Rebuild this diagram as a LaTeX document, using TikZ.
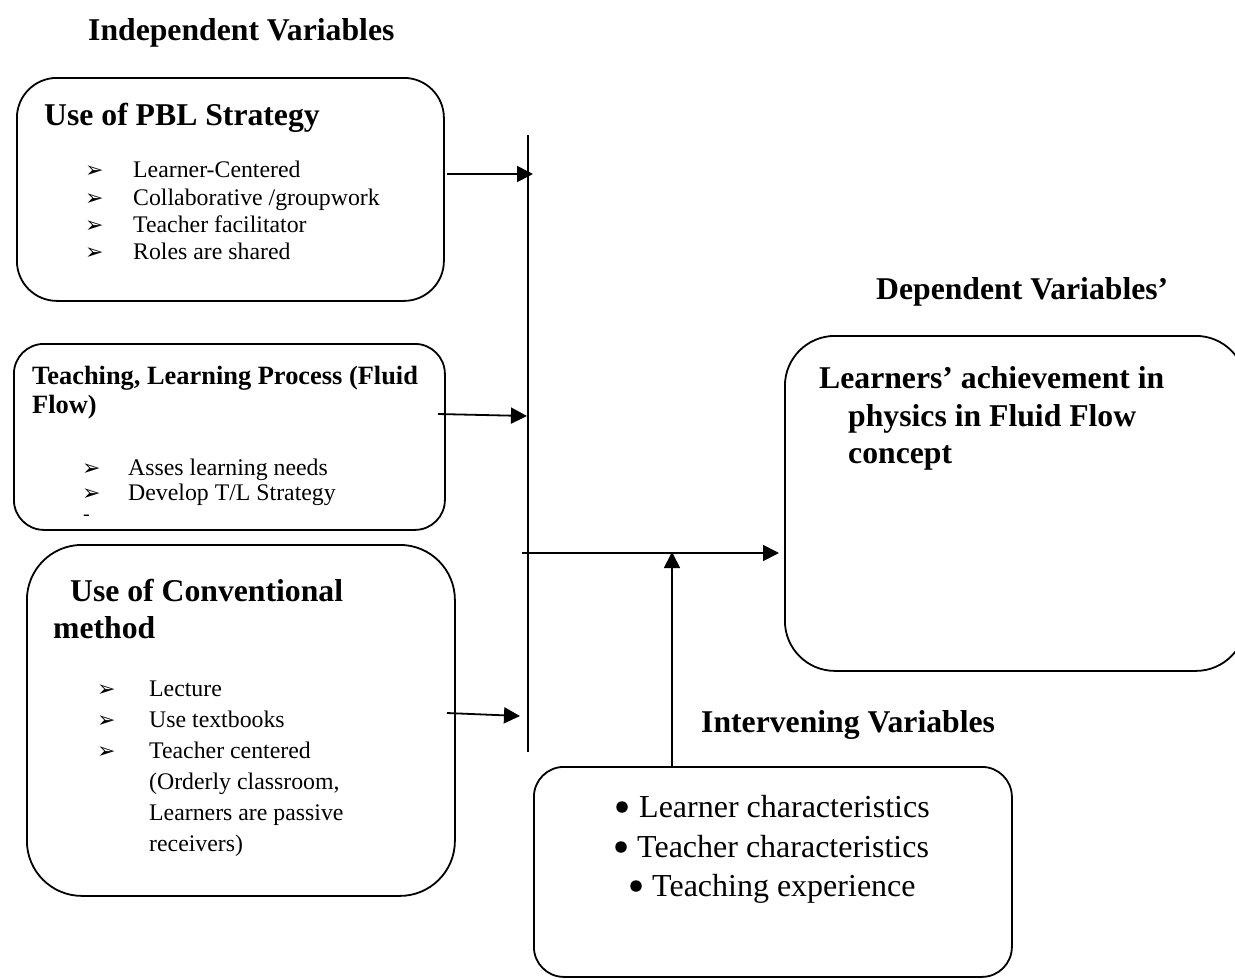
\documentclass[tikz,border=0pt]{standalone}
\usepackage{fontspec}
\setmainfont{Liberation Serif}
\newfontfamily\dejavu{DejaVu Sans}
\usetikzlibrary{arrows.meta}
\newcommand\hdfont{\fontsize{31.7pt}{37pt}\selectfont\bfseries}
\newcommand\smtitle{\fontsize{26.4pt}{30pt}\selectfont\bfseries}
\newcommand\itfont{\fontsize{23.8pt}{27pt}\selectfont}
\newcommand\bigit{\fontsize{32pt}{39pt}\selectfont}
\newcommand\arfont{\dejavu\fontsize{22pt}{24pt}\selectfont}
\begin{document}
\begin{tikzpicture}[x=1pt,y=-1pt,
  box/.style={draw, line width=1.8pt, inner sep=0pt, anchor=north west},
  lbl/.style={anchor=base west, inner sep=0pt},
  dotb/.style={circle, fill, inner sep=0pt, minimum size=11.5pt},
  conn/.style={line width=1.8pt, -{Triangle[length=16pt,width=16pt]}},
  bus/.style={line width=1.8pt}]
\useasboundingbox (0,0) rectangle (1235,978);

% headings
\node[lbl, font=\hdfont] (hInd) at (88,40) {Independent Variables};
\node[lbl, font=\hdfont] (hDep) at (876,299) {Dependent Variables’};
\node[lbl, font=\hdfont] (hInt) at (701,732) {Intervening Variables};

% box 1 : PBL
\node[box, minimum width=427pt, minimum height=223pt, rounded corners=40pt] (pbl) at (16,77) {};
\node[lbl, font=\hdfont] (pblT) at (44,125) {Use of PBL Strategy};
\node[lbl, font=\arfont] (pblA1) at (85,177) {➢};
\node[lbl, font=\arfont] (pblA2) at (85,205) {➢};
\node[lbl, font=\arfont] (pblA3) at (85,232) {➢};
\node[lbl, font=\arfont] (pblA4) at (85,259) {➢};
\node[lbl, font=\itfont] (pbl1) at (133,177) {Learner-Centered};
\node[lbl, font=\itfont] (pbl2) at (133,205) {Collaborative /groupwork};
\node[lbl, font=\itfont] (pbl3) at (133,232) {Teacher facilitator};
\node[lbl, font=\itfont] (pbl4) at (133,259) {Roles are shared};

% box 2 : teaching learning process
\node[box, minimum width=431pt, minimum height=186pt, rounded corners=30pt] (tlp) at (13,343) {};
\node[lbl, font=\smtitle] (tlpT1) at (32,384) {Teaching, Learning Process (Fluid};
\node[lbl, font=\smtitle] (tlpT2) at (32,413) {Flow)};
\node[lbl, font=\arfont] (tlpA1) at (82,475) {➢};
\node[lbl, font=\arfont] (tlpA2) at (82,500) {➢};
\node[lbl, font=\itfont] (tlp1) at (128,475) {Asses learning needs};
\node[lbl, font=\itfont] (tlp2) at (128,500) {Develop T/L Strategy};
\node[lbl, font=\fontsize{20pt}{22pt}\selectfont] (tlpD) at (83,520) {-};

% box 3 : conventional
\node[box, minimum width=428pt, minimum height=351pt, rounded corners=55pt] (conv) at (26,544) {};
\node[lbl, font=\hdfont] (convT1) at (62,601) {\ Use of Conventional};
\node[lbl, font=\hdfont] (convT2) at (53,638) {method};
\node[lbl, font=\arfont] (convA1) at (97,696) {➢};
\node[lbl, font=\arfont] (convA2) at (97,727) {➢};
\node[lbl, font=\arfont] (convA3) at (97,758) {➢};
\node[lbl, font=\itfont] (conv1) at (149,696) {Lecture};
\node[lbl, font=\itfont] (conv2) at (149,727) {Use textbooks};
\node[lbl, font=\itfont] (conv3) at (149,758) {Teacher centered};
\node[lbl, font=\itfont] (conv4) at (149,789) {(Orderly classroom,};
\node[lbl, font=\itfont] (conv5) at (149,820) {Learners are passive};
\node[lbl, font=\itfont] (conv6) at (149,851) {receivers)};

% box 5 : dependent
\node[box, minimum width=461pt, minimum height=335pt, rounded corners=50pt] (dep) at (784,335) {};
\node[lbl, font=\hdfont] (dep1) at (819,388) {Learners’ achievement in};
\node[lbl, font=\hdfont] (dep2) at (848,426) {physics in Fluid Flow};
\node[lbl, font=\hdfont] (dep3) at (848,463) {concept};

% box 4 : intervening
\node[box, minimum width=478pt, minimum height=210pt, rounded corners=30pt] (intv) at (533,766) {};
\node[dotb] (dot1) at (622,807) {};
\node[dotb] (dot2) at (621,847) {};
\node[dotb] (dot3) at (636,886) {};
\node[lbl, font=\bigit] (int1) at (639,817) {Learner characteristics};
\node[lbl, font=\bigit] (int2) at (637,857) {Teacher characteristics};
\node[lbl, font=\bigit] (int3) at (652,896) {Teaching experience};

% bus and connectors
\coordinate (busT) at (528,135);
\coordinate (busB) at (528,752);
\draw[bus] (busT) -- (busB);

\coordinate (a1s) at (447,174);
\coordinate (a1e) at (533,174);
\draw[conn] (a1s) -- (a1e);

\coordinate (a2s) at (438,414);
\coordinate (a2e) at (527,416);
\draw[conn] (a2s) -- (a2e);

\coordinate (a3s) at (447,713);
\coordinate (a3e) at (520,716);
\draw[conn] (a3s) -- (a3e);

\coordinate (hs) at (522,553);
\coordinate (he) at (779,553);
\draw[conn] (hs) -- (he);

\coordinate (us) at (672,767);
\coordinate (ue) at (672,552);
\draw[conn] (us) -- (ue);
\end{tikzpicture}
\end{document}
